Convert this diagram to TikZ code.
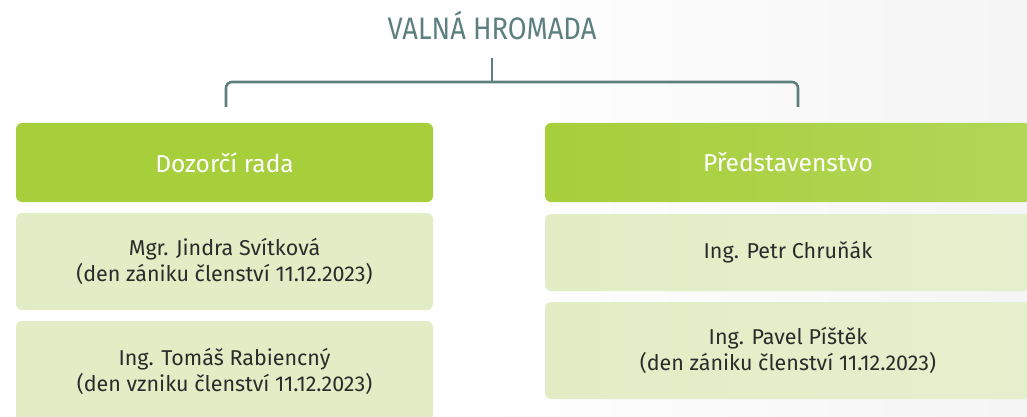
\documentclass[tikz,border=0pt]{standalone}
\usepackage{fontspec}
\setmainfont{Fira Sans}
\newfontfamily\titlefont[FakeStretch=0.88]{Fira Sans}
\newfontfamily\boxfont{Fira Sans}
\definecolor{hdgreen}{HTML}{A7CE3B}
\definecolor{hdgreenR}{HTML}{B2D657}
\definecolor{lightgreen}{HTML}{E2EDC5}
\definecolor{lightgreenR}{HTML}{E6EFCD}
\definecolor{teal}{HTML}{5E7F7F}
\definecolor{txt}{HTML}{2B2B2B}
\begin{document}
\begin{tikzpicture}[x=1pt,y=-1pt,
  hdbox/.style={rounded corners=6pt, minimum height=79pt, inner sep=0pt,
    text=white, font=\boxfont\fontsize{24.5}{28}\selectfont, align=center},
  membox/.style={rounded corners=6pt, inner sep=0pt, text=txt,
    font=\boxfont\fontsize{21.5}{26}\selectfont, align=center},
  link/.style={draw=teal, line width=2.6pt, rounded corners=6pt}]
\useasboundingbox (0,0) rectangle (1027,417);
\shade[left color=white, right color=black!4] (488,0) -- (1027,0) -- (1027,417) -- (478,417) -- cycle;
% title
\node[text=teal, font=\titlefont\fontsize{31}{34}\selectfont, inner sep=0pt] (vh) at (492,26) {VALNÁ HROMADA};
% left column
\node[hdbox, fill=hdgreen, minimum width=417pt] (dr) at (224.5,162.5) {Dozorčí rada};
\node[membox, fill=lightgreen, minimum width=417pt, minimum height=97pt] (m1) at (224.5,261.5) {Mgr. Jindra Svítková\\(den zániku členství 11.12.2023)};
\node[membox, fill=lightgreen, minimum width=417pt, minimum height=100pt] (m2) at (224.5,371) {Ing. Tomáš Rabiencný\\(den vzniku členství 11.12.2023)};
% right column
\node[hdbox, left color=hdgreen, right color=hdgreenR, minimum width=486pt] (pr) at (788,162.5) {Představenstvo};
\node[membox, left color=lightgreen, right color=lightgreenR, minimum width=486pt, minimum height=77pt] (p1) at (788,252.5) {Ing. Petr Chruňák};
\node[membox, left color=lightgreen, right color=lightgreenR, minimum width=486pt, minimum height=97pt] (p2) at (788,350.5) {Ing. Pavel Píštěk\\(den zániku členství 11.12.2023)};
% connectors
\coordinate (top) at (492,58);
\coordinate (mid) at (492,82);
\coordinate (lend) at (226,107);
\coordinate (rend) at (798,107);
\draw[link] (top) -- (mid);
\draw[link] (lend) |- (mid) -| (rend);
\end{tikzpicture}
\end{document}
